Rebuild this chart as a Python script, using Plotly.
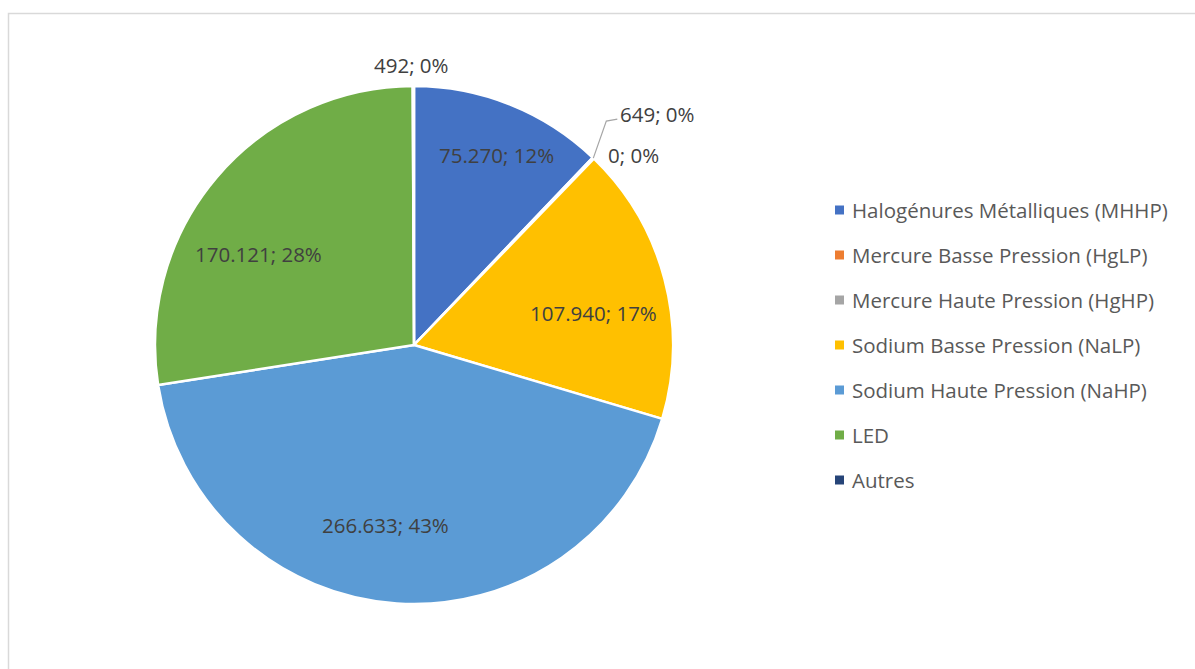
import math
import plotly.graph_objects as go

# Lighting stock by lamp technology
categories = [
    "Halogénures Métalliques (MHHP)",
    "Mercure Basse Pression (HgLP)",
    "Mercure Haute Pression (HgHP)",
    "Sodium Basse Pression (NaLP)",
    "Sodium Haute Pression (NaHP)",
    "LED",
    "Autres",
]
values = [75270, 649, 0, 107940, 266633, 170121, 492]
value_labels = ["75.270", "649", "0", "107.940", "266.633", "170.121", "492"]
percent_labels = ["12%", "0%", "0%", "17%", "43%", "28%", "0%"]
colors = ["#4472C4", "#ED7D31", "#A5A5A5", "#FFC000", "#5B9BD5", "#70AD47", "#264478"]

W, H = 1195, 669
CX, CY, R = 414, 345, 259          # pie centre and radius in pixels
FONT = "Open Sans"
FSIZE = 20.5
TEXT_COLOR = "#404040"
LEGEND_COLOR = "#595959"


def px(x):
    return x / W


def py(y):
    return 1 - y / H


fig = go.Figure(
    go.Pie(
        labels=categories,
        values=values,
        marker=dict(colors=colors, line=dict(color="white", width=2.5)),
        sort=False,
        direction="clockwise",
        rotation=0,
        textinfo="none",
        hoverinfo="label+value+percent",
        showlegend=False,
        domain=dict(x=[px(CX - R), px(CX + R)], y=[py(CY + R), py(CY - R)]),
    )
)

# slice mid-angles (clockwise from 12 o'clock)
total = sum(values)
mids = []
acc = 0
for v in values:
    mids.append((acc + v / 2) / total * 2 * math.pi)
    acc += v


def polar(angle, r):
    return CX + r * math.sin(angle), CY - r * math.cos(angle)


annotations = []
# label placement: (radius factor, dx, dy)
placement = {
    0: (0.80, 6, 2),
    3: (0.70, 4, 14),
    4: (0.71, -16, -3),
    5: (0.70, -17, 27),
    6: (1.08, -2, 0),
}
for i, (rf, dx, dy) in placement.items():
    x, y = polar(mids[i], rf * R)
    annotations.append(dict(
        x=px(x + dx), y=py(y + dy), xref="paper", yref="paper",
        text=f"{value_labels[i]}; {percent_labels[i]}", showarrow=False,
        xanchor="center", yanchor="middle",
        font=dict(family=FONT, size=FSIZE, color=TEXT_COLOR),
    ))

# small slices: HgLP with leader line, HgHP just outside the edge
ex, ey = polar(mids[1], R)
elbow = (ex + 13, ey - 37)
end = (elbow[0] + 11, elbow[1] - 2)
shapes = [
    dict(type="path", xref="paper", yref="paper",
         path=f"M {px(ex)} {py(ey)} L {px(elbow[0])} {py(elbow[1])} L {px(end[0])} {py(end[1])}",
         line=dict(color="#A6A6A6", width=1.2)),
]
annotations.append(dict(
    x=px(end[0] + 1), y=py(end[1] - 5), xref="paper", yref="paper",
    text=f"{value_labels[1]}; {percent_labels[1]}", showarrow=False,
    xanchor="left", yanchor="middle",
    font=dict(family=FONT, size=FSIZE, color=TEXT_COLOR),
))
hx, hy = polar(mids[2], R)
annotations.append(dict(
    x=px(hx + 12), y=py(hy - 4), xref="paper", yref="paper",
    text=f"{value_labels[2]}; {percent_labels[2]}", showarrow=False,
    xanchor="left", yanchor="middle",
    font=dict(family=FONT, size=FSIZE, color=TEXT_COLOR),
))

# legend
LX, LY0, LSTEP, SQ = 839.5, 210, 45.0, 9
for i, (name, c) in enumerate(zip(categories, colors)):
    y = LY0 + i * LSTEP
    shapes.append(dict(type="rect", xref="paper", yref="paper",
                       x0=px(LX - SQ / 2), x1=px(LX + SQ / 2),
                       y0=py(y + SQ / 2), y1=py(y - SQ / 2),
                       fillcolor=c, line=dict(width=0)))
    annotations.append(dict(
        x=px(LX + 10), y=py(y), xref="paper", yref="paper",
        text=name, showarrow=False, xanchor="left", yanchor="middle",
        font=dict(family=FONT, size=FSIZE, color=LEGEND_COLOR),
    ))

# chart area border
shapes.append(dict(type="rect", xref="paper", yref="paper",
                   x0=px(8.5), x1=px(W + 10), y0=py(H + 10), y1=py(13.5),
                   line=dict(color="#D9D9D9", width=1.5), fillcolor="rgba(0,0,0,0)"))

fig.update_layout(
    width=W, height=H,
    margin=dict(l=0, r=0, t=0, b=0),
    paper_bgcolor="white",
    plot_bgcolor="white",
    shapes=shapes,
    annotations=annotations,
    font=dict(family=FONT),
)

fig.write_html("out.html")
